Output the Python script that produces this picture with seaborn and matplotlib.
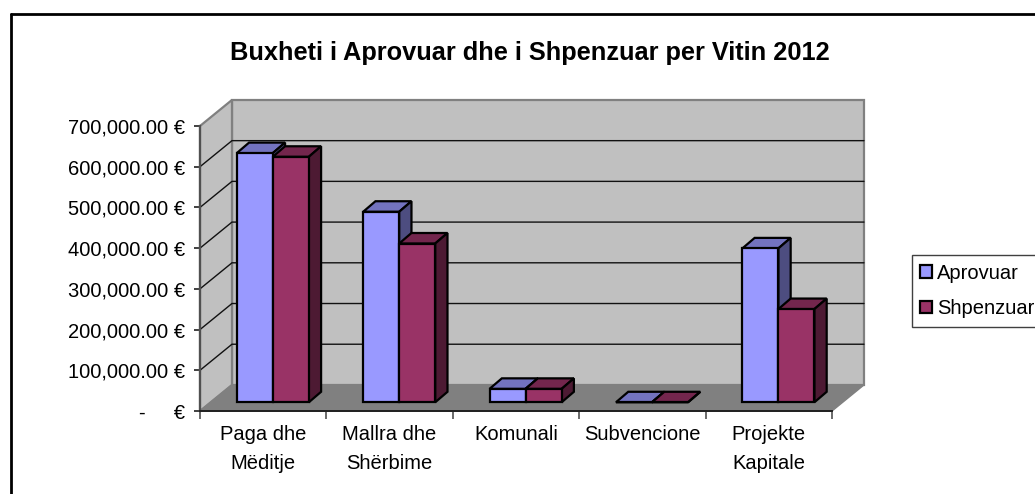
import matplotlib
matplotlib.use('Agg')
import matplotlib.pyplot as plt
import pandas as pd
import seaborn as sns
from matplotlib.lines import Line2D
from matplotlib.patches import Polygon

categories = ['Paga dhe\nMëditje', 'Mallra dhe\nShërbime', 'Komunali', 'Subvencione', 'Projekte\nKapitale']
aprovuar = [612000, 468000, 33000, 0, 378000]
shpenzuar = [603000, 390000, 33000, 0, 229000]
y_values = [0, 100000, 200000, 300000, 400000, 500000, 600000, 700000]
y_labels = ['-     €', '100,000.00 €', '200,000.00 €', '300,000.00 €',
            '400,000.00 €', '500,000.00 €', '600,000.00 €', '700,000.00 €']
title = 'Buxheti i Aprovuar dhe i Shpenzuar per Vitin 2012'

W, H = 1035, 494
FS = 14.5

sns.set_theme(style='white')
plt.rcParams['font.family'] = ['Liberation Sans', 'DejaVu Sans']

df = pd.DataFrame({
    'kategoria': categories * 2,
    'vlera': aprovuar + shpenzuar,
    'seria': ['Aprovuar'] * 5 + ['Shpenzuar'] * 5,
})

fig = plt.figure(figsize=(W / 100, H / 100), dpi=100)
ax = fig.add_axes([200 / W, (H - 411) / H, 632 / W, 285 / H])
ax.patch.set_alpha(0)

palette = {'Aprovuar': '#9999FF', 'Shpenzuar': '#993366'}
sns.barplot(data=df, x='kategoria', y='vlera', hue='seria', palette=palette,
            width=0.57, gap=0, dodge=True, saturation=1, edgecolor='black',
            linewidth=1.6, ax=ax, zorder=5)
ax.set_xlim(-0.5, 4.5)
ax.set_ylim(0, 700000)
ax.set_xlabel('')
ax.set_ylabel('')

# depth of the fake 3d box, in data units
wall_dx, wall_dy = 0.253, 64000
# where the bars stand on the floor and how deep they are
bar_dx, bar_dy = 0.076, 21400
depth_x, depth_y = 0.097, 25800

x0, x1 = -0.5, 4.5
top = y_values[-1]

# walls and floor
ax.add_patch(Polygon([(x0 + wall_dx, wall_dy), (x1 + wall_dx, wall_dy),
                      (x1 + wall_dx, top + wall_dy), (x0 + wall_dx, top + wall_dy)],
                     fc='#C0C0C0', ec='#808080', lw=1.6, clip_on=False, zorder=1))
ax.add_patch(Polygon([(x0, 0), (x0 + wall_dx, wall_dy), (x0 + wall_dx, top + wall_dy), (x0, top)],
                     fc='#C0C0C0', ec='#808080', lw=1.6, clip_on=False, zorder=1))
ax.add_patch(Polygon([(x0, 0), (x0 + wall_dx, wall_dy), (x1 + wall_dx, wall_dy), (x1, 0)],
                     fc='#808080', ec='#808080', lw=1, clip_on=False, zorder=2))

# gridlines on the back and left wall
for v in y_values[1:-1]:
    ax.plot([x0, x0 + wall_dx, x1 + wall_dx], [v, v + wall_dy, v + wall_dy],
            color='#111111', lw=1.0, clip_on=False, zorder=3, solid_joinstyle='miter')

# move bars onto the floor and add top and side faces
shades = {'#9999FF': ('#7373BF', '#4D4D80'), '#993366': ('#73264D', '#4D1A33')}
n = len(categories)
bars = [p for p in ax.patches if p.get_zorder() == 5 and p.get_width() > 0][:2 * n]
for i, bar in enumerate(bars):
    z = 5 + (i % n) * 4 + (i // n) * 2
    xa = bar.get_x() + bar_dx
    xb = xa + bar.get_width()
    h = bar.get_height()
    bar.set_x(xa)
    bar.set_y(bar_dy)
    bar.set_clip_on(False)
    bar.set_zorder(z + 1)
    bar.set_joinstyle('miter')
    c_top, c_side = shades[list(palette.values())[i // n]]
    yb = bar_dy + h
    ax.add_patch(Polygon([(xa, yb), (xa + depth_x, yb + depth_y), (xb + depth_x, yb + depth_y), (xb, yb)],
                         fc=c_top, ec='black', lw=1.6, clip_on=False, zorder=z))
    ax.add_patch(Polygon([(xb, bar_dy), (xb + depth_x, bar_dy + depth_y), (xb + depth_x, yb + depth_y), (xb, yb)],
                         fc=c_side, ec='black', lw=1.6, clip_on=False, zorder=z))

# axes
sns.despine(ax=ax, top=True, right=True)
ax.spines['left'].set_color('#505050')
ax.spines['left'].set_linewidth(1.6)
ax.spines['bottom'].set_color('#202020')
ax.spines['bottom'].set_linewidth(1.4)
for s in ax.spines.values():
    s.set_zorder(4)

ax.set_yticks(y_values)
ax.set_yticklabels(y_labels, fontsize=FS, color='black')
ax.tick_params(axis='y', which='major', left=True, length=4, width=1.2, color='#202020', pad=7)

ax.set_xticks([x0 + i for i in range(n + 1)])
ax.set_xticklabels([''] * (n + 1))
ax.set_xticks(range(n), labels=categories, minor=True)
ax.tick_params(axis='x', which='major', bottom=True, length=5.5, width=1.2, color='#505050')
ax.tick_params(axis='x', which='minor', bottom=False, length=0, pad=10, labelsize=FS, labelcolor='black')
for lab in ax.get_xticklabels(minor=True):
    lab.set_linespacing(1.68)

fig.text(530 / W, 1 - 53 / H, title, ha='center', va='center', fontsize=18.3, fontweight='bold', color='black')

# legend hangs off the right edge like the source
handles, labels = ax.get_legend_handles_labels()
leg = ax.legend(handles, labels, loc='upper left',
                bbox_to_anchor=(911.5 / W, 1 - 255.5 / H), bbox_transform=fig.transFigure,
                fontsize=FS, labelcolor='black', frameon=True, fancybox=False, framealpha=1,
                edgecolor='#404040', handlelength=0.6, handleheight=0.6, handletextpad=0.23,
                labelspacing=0.8, borderpad=0.42, borderaxespad=0)
leg.get_frame().set_linewidth(1.0)
leg.set_zorder(50)

# outer chart border, only left and top fall inside the picture
fig.add_artist(Line2D([10.5 / W, 10.5 / W], [0, 1 - 14 / H], color='black', lw=2))
fig.add_artist(Line2D([10.5 / W, 1], [1 - 14 / H, 1 - 14 / H], color='black', lw=2))

plt.savefig('out.png', dpi=100)
